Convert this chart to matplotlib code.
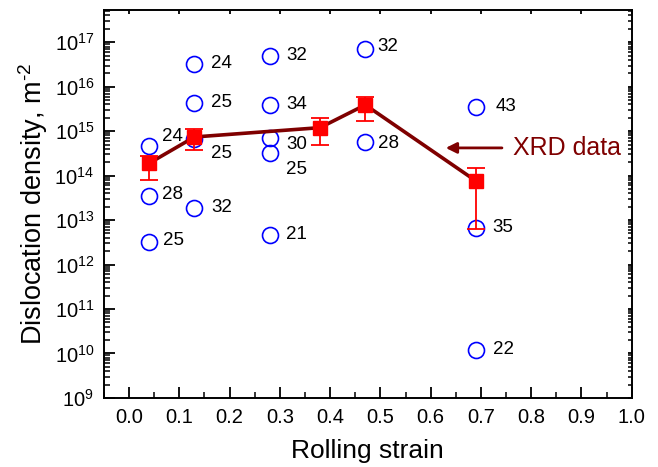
import numpy as np
import matplotlib
matplotlib.use("Agg")
import matplotlib.pyplot as plt
from matplotlib.ticker import FixedLocator, MultipleLocator, NullFormatter

plt.rcParams['font.family'] = ['Liberation Sans', 'DejaVu Sans']
plt.rcParams['mathtext.default'] = 'regular'

# TEM / individual grain measurements (open circles) with their labels
tem_strain = [0.04, 0.04, 0.04,
              0.13, 0.13, 0.13, 0.13,
              0.28, 0.28, 0.28, 0.28, 0.28,
              0.47, 0.47,
              0.69, 0.69, 0.69]
tem_density = [4.7e14, 3.5e13, 3.2e12,
               3.3e16, 4.2e15, 6.5e14, 1.9e13,
               5.0e16, 3.9e15, 7.0e14, 3.2e14, 4.7e12,
               7.0e16, 5.8e14,
               3.5e15, 6.8e12, 1.2e10]
tem_labels = ['24', '28', '25',
              '24', '25', '25', '32',
              '32', '34', '30', '25', '21',
              '32', '28',
              '43', '35', '22']

# XRD data (filled squares) with asymmetric error bars
xrd_strain = [0.04, 0.13, 0.38, 0.47, 0.69]
xrd_density = [1.9e14, 7.4e14, 1.2e15, 3.9e15, 7.6e13]
xrd_upper = [2.8e14, 1.12e15, 2.0e15, 5.9e15, 1.5e14]
xrd_lower = [8.0e13, 3.8e14, 4.9e14, 1.7e15, 6.3e12]

# axis ticks
x_ticks = [0.0, 0.1, 0.2, 0.3, 0.4, 0.5, 0.6, 0.7, 0.8, 0.9, 1.0]
y_exponents = [9, 10, 11, 12, 13, 14, 15, 16, 17]

# label offsets in points (dx, dy) relative to each circle
label_offsets = [(9, 7), (9, 1), (10, 1),
                 (12, 0), (12, 1), (12, -10), (12, 0),
                 (12, 0), (12, 0), (12, -5), (12, -12), (12, 0),
                 (9, 2), (9, -1),
                 (14, 0), (12, 0), (12, 0)]

fig = plt.figure(figsize=(6.58, 4.67), dpi=100)
ax = fig.add_axes([0.158, 0.148, 0.802, 0.831])

ax.plot(tem_strain, tem_density, 'o', ms=11.5, mfc='none', mec='#0000ff', mew=1.2, zorder=2)
for x, y, s, (dx, dy) in zip(tem_strain, tem_density, tem_labels, label_offsets):
    ax.annotate(s, (x, y), xytext=(dx, dy), textcoords='offset points',
                ha='left', va='center', fontsize=13.5, color='black')

ax.plot(xrd_strain, xrd_density, '-', color='#7f0000', lw=2.6, zorder=3)
yerr = [np.array(xrd_density) - np.array(xrd_lower), np.array(xrd_upper) - np.array(xrd_density)]
ax.errorbar(xrd_strain, xrd_density, yerr=yerr, fmt='s', ms=10, color='#ff0000',
            ecolor='#ff0000', elinewidth=1.3, capsize=6.5, capthick=1.3, zorder=4)

ax.annotate('XRD data', xy=(0.63, 4.2e14), xytext=(0.764, 4.2e14),
            ha='left', va='center', fontsize=18, color='#7f0000',
            arrowprops=dict(arrowstyle='-|>', color='#7f0000', lw=2, mutation_scale=16,
                            shrinkA=6, shrinkB=0))

ax.set_yscale('log')
ax.set_xlim(-0.05, 1.0)
ax.set_ylim(1e9, 10 ** 17.73)
ax.set_xticks(x_ticks)
ax.set_xticklabels(['%.1f' % v for v in x_ticks])
ax.xaxis.set_minor_locator(MultipleLocator(0.05))
ax.set_yticks([10.0 ** e for e in y_exponents])
ax.set_yticklabels(['$10^{%d}$' % e for e in y_exponents])
minor_y = [m * 10.0 ** e for e in y_exponents for m in range(2, 10)]
ax.yaxis.set_minor_locator(FixedLocator(minor_y))
ax.yaxis.set_minor_formatter(NullFormatter())

ax.tick_params(which='major', direction='in', length=8, width=1.3, labelsize=14.5, pad=7,
               top=True, right=True)
ax.tick_params(which='minor', direction='in', length=4.5, width=1.1, top=False, right=True)
for sp in ax.spines.values():
    sp.set_linewidth(1.4)

# shorter ticks on the top and right frame
for t in ax.xaxis.get_major_ticks() + ax.yaxis.get_major_ticks() + ax.yaxis.get_minor_ticks():
    t.tick2line.set_markersize(3)

ax.set_xlabel('Rolling strain', fontsize=19, labelpad=9)
ax.set_ylabel('Dislocation density, m$^{\u2010 2}$', fontsize=19.5, labelpad=3)

fig.savefig('out.png', dpi=100)
